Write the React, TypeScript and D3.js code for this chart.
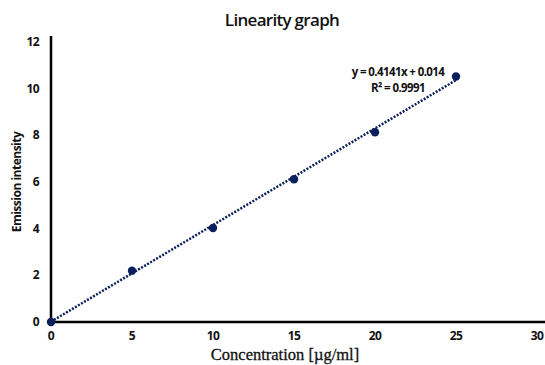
import React from 'react';
import * as d3 from 'd3';

const concentration = [0, 5, 10, 15, 20, 25];
const intensity = [0, 2.2, 4.03, 6.12, 8.13, 10.52];
const slope = 0.4141;
const intercept = 0.014;
const xTicks = [0, 5, 10, 15, 20, 25, 30];
const yTicks = [0, 2, 4, 6, 8, 10, 12];

const W = 545;
const H = 365;
const left = 51;
const bottom = 322;

const App: React.FC = () => {
  const x = d3.scaleLinear().domain([0, 30]).range([left, 537]);
  const y = d3.scaleLinear().domain([0, 12]).range([bottom, 42]);

  const trend = d3
    .line<number>()
    .x(d => x(d))
    .y(d => y(slope * d + intercept));

  const sans = "'Open Sans', 'Liberation Sans', sans-serif";

  return (
    <svg
      width={W}
      height={H}
      style={{ position: 'absolute', left: 0, top: 0, background: '#fff' }}
    >
      <text
        x={282}
        y={26}
        textAnchor="middle"
        fontFamily={sans}
        fontWeight={600}
        fontSize={17}
        letterSpacing={-0.7}
        fill="#111"
      >
        Linearity graph
      </text>

      {/* axes */}
      <line x1={left} x2={left} y1={36} y2={bottom + 1} stroke="#000" strokeWidth={2.5} />
      <line x1={left - 1} x2={W} y1={bottom} y2={bottom} stroke="#000" strokeWidth={2.5} />

      {yTicks.map(t => (
        <text
          key={'y' + t}
          x={39}
          y={y(t) + 4}
          textAnchor="end"
          fontFamily={sans}
          fontWeight="bold"
          fontSize={12}
          letterSpacing={-0.6}
          fill="#111"
        >
          {t}
        </text>
      ))}
      {xTicks.map(t => (
        <text
          key={'x' + t}
          x={x(t)}
          y={340}
          textAnchor="middle"
          fontFamily={sans}
          fontWeight="bold"
          fontSize={12}
          letterSpacing={-0.6}
          fill="#111"
        >
          {t}
        </text>
      ))}

      {/* trendline */}
      <path
        d={trend([0, 25]) || ''}
        fill="none"
        stroke="#0b1f5c"
        strokeWidth={2.5}
        strokeDasharray="2 1.5"
      />

      {concentration.map((c, i) => (
        <circle key={c} cx={x(c)} cy={y(intensity[i])} r={4.2} fill="#0b1f5c" />
      ))}

      <text
        x={398}
        y={76}
        textAnchor="middle"
        fontFamily={sans}
        fontWeight="bold"
        fontSize={11.5}
        letterSpacing={-0.6}
        fill="#111"
      >
        y = 0.4141x + 0.014
      </text>
      <text
        x={398}
        y={92}
        textAnchor="middle"
        fontFamily={sans}
        fontWeight="bold"
        fontSize={11.5}
        letterSpacing={-0.6}
        fill="#111"
      >
        R² = 0.9991
      </text>

      <text
        x={285}
        y={360}
        textAnchor="middle"
        fontFamily="'Liberation Serif', 'DejaVu Serif', serif"
        fontSize={16.5}
        stroke="#111"
        strokeWidth={0.3}
        fill="#111"
      >
        Concentration [µg/ml]
      </text>
      <text
        transform={`translate(21, 182) rotate(-90)`}
        textAnchor="middle"
        fontFamily={sans}
        fontWeight="bold"
        fontSize={12}
        letterSpacing={-0.5}
        fill="#111"
      >
        Emission intensity
      </text>
    </svg>
  );
};

export default App;
